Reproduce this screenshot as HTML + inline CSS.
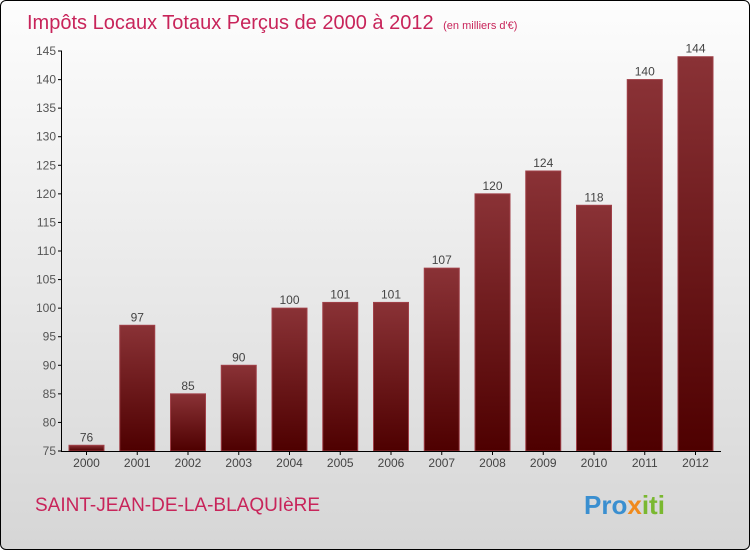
<!DOCTYPE html>
<html><head><meta charset="utf-8"><style>
body{margin:0}
#c{width:750px;height:550px;box-sizing:border-box;border:1px solid #000;border-radius:6px;overflow:hidden;background:linear-gradient(#fdfdfd,#d6d6d6);position:relative;font-family:"Liberation Sans",sans-serif}
</style></head><body>
<div id="c">
<svg width="750" height="550" style="position:absolute;left:0;top:0" id="svg">
<defs><linearGradient id="bg" x1="0" y1="0" x2="0" y2="1"><stop offset="0" stop-color="#8a3236"/><stop offset="1" stop-color="#4e0000"/></linearGradient></defs>
<text x="26" y="28" font-size="20" fill="#c8245a">Impôts Locaux Totaux Perçus de 2000 à 2012 <tspan font-size="11" dx="4">(en milliers d'€)</tspan></text>
<text x="34" y="510" font-size="19" fill="#c8245a">SAINT-JEAN-DE-LA-BLAQUIèRE</text>
<text x="583" y="513" font-size="26" font-weight="bold" fill="#3a8fd0">Pro<tspan fill="#f08a1c">x</tspan><tspan fill="#7ab830">iti</tspan></text>
<g id="plot"></g>
</svg>
</div>
<script>
const years=["2000","2001","2002","2003","2004","2005","2006","2007","2008","2009","2010","2011","2012"];
const values=[76,97,85,90,100,101,101,107,120,124,118,140,144];
const ticks=[75,80,85,90,95,100,105,110,115,120,125,130,135,140,145];
const ns="http://www.w3.org/2000/svg",g=document.getElementById('plot');
const y=v=>450-(v-75)*400/70, x=i=>85.5+i*50.75;
function mk(t,a){const e=document.createElementNS(ns,t);for(const k in a)e.setAttribute(k,a[k]);g.appendChild(e);return e;}
ticks.forEach(t=>{
 const l=mk('line',{x1:57,x2:61,y1:y(t),y2:y(t),stroke:'#000'});
 
 
 const tx=mk('text',{x:55,y:y(t)+4,'font-size':12,'text-anchor':'end',fill:'#555'});tx.textContent=t;
 
 
});
values.forEach((v,i)=>{
 const r=mk('rect',{x:x(i)-17.5,y:y(v),width:35,height:450-y(v),fill:'url(#bg)',stroke:'#a04048','stroke-width':1});
 
 
 const t=mk('text',{x:x(i),y:y(v)-4,'font-size':12,'text-anchor':'middle',fill:'#444'});t.textContent=v;
 
 
 const xl=mk('text',{x:x(i),y:466,'font-size':12,'text-anchor':'middle',fill:'#444'});xl.textContent=years[i];
 
 
 const tk=mk('line',{x1:x(i),x2:x(i),y1:450,y2:454,stroke:'#000'});
 
 
});
const ya=mk('line',{x1:60.5,x2:60.5,y1:50,y2:450.5,stroke:'#000'});


const xa=mk('line',{x1:60,x2:720,y1:450.5,y2:450.5,stroke:'#000'});


</script>
</body></html>
